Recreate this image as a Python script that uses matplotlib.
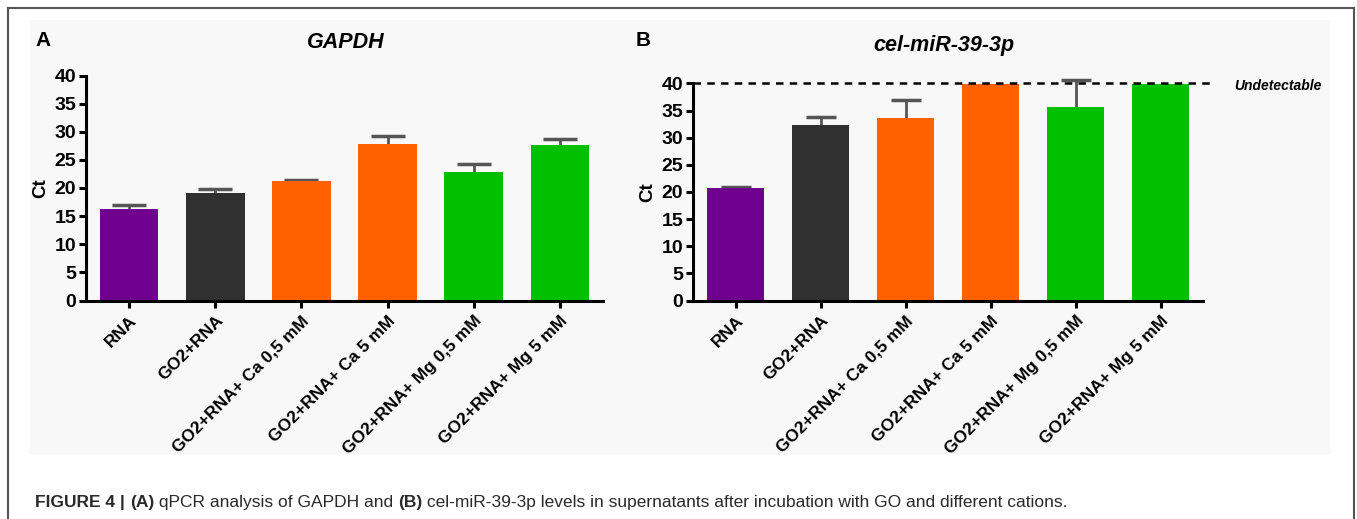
import matplotlib
matplotlib.use("Agg")
import matplotlib.pyplot as plt
from matplotlib.patches import Rectangle
from matplotlib.lines import Line2D
import matplotlib.font_manager as fm

names = {f.name for f in fm.fontManager.ttflist}
NARROW = ['Liberation Sans Narrow', 'Liberation Sans', 'DejaVu Sans'] if 'Liberation Sans Narrow' in names else ['Liberation Sans', 'DejaVu Sans']
plt.rcParams['font.family'] = NARROW

categories = ["RNA", "GO2+RNA", "GO2+RNA+ Ca 0,5 mM", "GO2+RNA+ Ca 5 mM",
              "GO2+RNA+ Mg 0,5 mM", "GO2+RNA+ Mg 5 mM"]
gapdh_ct = [16.2, 19.1, 21.3, 27.9, 22.9, 27.6]
gapdh_err = [0.7, 0.7, 0.15, 1.3, 1.4, 1.2]
mir_ct = [20.8, 32.3, 33.6, 40.0, 35.7, 40.0]
mir_err = [0.2, 1.6, 3.3, 0.0, 5.0, 0.0]
bar_colors = ["#700090", "#303030", "#ff6000", "#ff6000", "#00c000", "#00c000"]
yticks = [0, 5, 10, 15, 20, 25, 30, 35, 40]
undetectable = 40

W, H = 1357, 519
fig = plt.figure(figsize=(W / 100, H / 100), dpi=100)
fig.patch.set_facecolor("white")

def fx(x):
    return x / W

def fy(y):
    return 1 - y / H

# faint image background
fig.patches.append(Rectangle((fx(30), fy(455)), fx(1300), 435 / H, transform=fig.transFigure,
                             facecolor="#f8f8f8", edgecolor="none", zorder=-5))
# outer frame
for (x0, y0, x1, y1) in [(8, 8, 1354, 8), (8, 8, 8, 519), (1354, 8, 1354, 519)]:
    fig.lines.append(Line2D([fx(x0), fx(x1)], [fy(y0), fy(y1)], transform=fig.transFigure,
                            color="#555555", lw=1.5, zorder=-4))

axA = fig.add_axes([fx(86), fy(300.5), fx(517), 225 / H])
axB = fig.add_axes([fx(693), fy(300.5), fx(510), 217 / H])
axA.set_zorder(2)
axB.set_zorder(2)

def style(ax, vals, errs, capsize):
    x = list(range(len(categories)))
    ax.bar(x, vals, width=0.68, color=bar_colors, zorder=2)
    ex = [i for i in x if errs[i] > 0]
    ax.errorbar(ex, [vals[i] for i in ex], yerr=[errs[i] for i in ex], fmt='none',
                ecolor="#555555", elinewidth=2, capsize=capsize, capthick=2.5, zorder=1,
                clip_on=False)
    ax.set_xlim(-0.5, 5.5)
    ax.set_ylim(0, 40)
    ax.set_yticks(yticks)
    ax.set_xticks(x)
    ax.set_xticklabels(categories, rotation=45, ha='right', rotation_mode='anchor',
                       fontsize=12.5, fontweight='bold')
    for lab in ax.get_yticklabels():
        lab.set_fontsize(14)
        lab.set_fontweight('bold')
    ax.tick_params(axis='both', direction='out', length=5, width=2.2, color='black', pad=2)
    ax.tick_params(axis='x', pad=4)
    for s in ['top', 'right']:
        ax.spines[s].set_visible(False)
    for s in ['left', 'bottom']:
        ax.spines[s].set_linewidth(2.2)
    ax.set_ylabel("Ct", fontsize=13.5, fontweight='bold', labelpad=4)
    ax.patch.set_alpha(0)

style(axA, gapdh_ct, gapdh_err, 12)
style(axB, mir_ct, mir_err, 11)

axB.plot([-0.5, 5.6], [undetectable, undetectable], ls=(0, (3, 2.5)), color='black', lw=1.8,
         clip_on=False, zorder=3)
fig.text(fx(1322), fy(86), "Undetectable", ha='right', va='center', fontsize=10,
         fontweight='bold', style='italic')

fig.text(fx(346), fy(42), "GAPDH", ha='center', va='center', fontsize=15.5,
         fontweight='bold', style='italic')
fig.text(fx(944), fy(46), "cel-miR-39-3p", ha='center', va='center', fontsize=15.5,
         fontweight='bold', style='italic')
fig.text(fx(35), fy(40), "A", ha='left', va='center', fontsize=15, fontweight='bold',
         family=['Liberation Sans', 'DejaVu Sans'])
fig.text(fx(636), fy(40), "B", ha='left', va='center', fontsize=15, fontweight='bold',
         family=['Liberation Sans', 'DejaVu Sans'])

# caption
pieces = [("FIGURE 4 | ", 'bold'), ("(A)", 'bold'), (" qPCR analysis of GAPDH and ", 'normal'),
          ("(B)", 'bold'),
          (" cel-miR-39-3p levels in supernatants after incubation with GO and different cations.", 'normal')]
fig.canvas.draw()
renderer = fig.canvas.get_renderer()
x = 35
for txt, wt in pieces:
    t = fig.text(fx(x), fy(503), txt, ha='left', va='center', fontsize=12.5, fontweight=wt,
                 color="#2a2a2a")
    bb = t.get_window_extent(renderer=renderer)
    x += bb.width

fig.savefig("out.png", dpi=100, facecolor="white")
